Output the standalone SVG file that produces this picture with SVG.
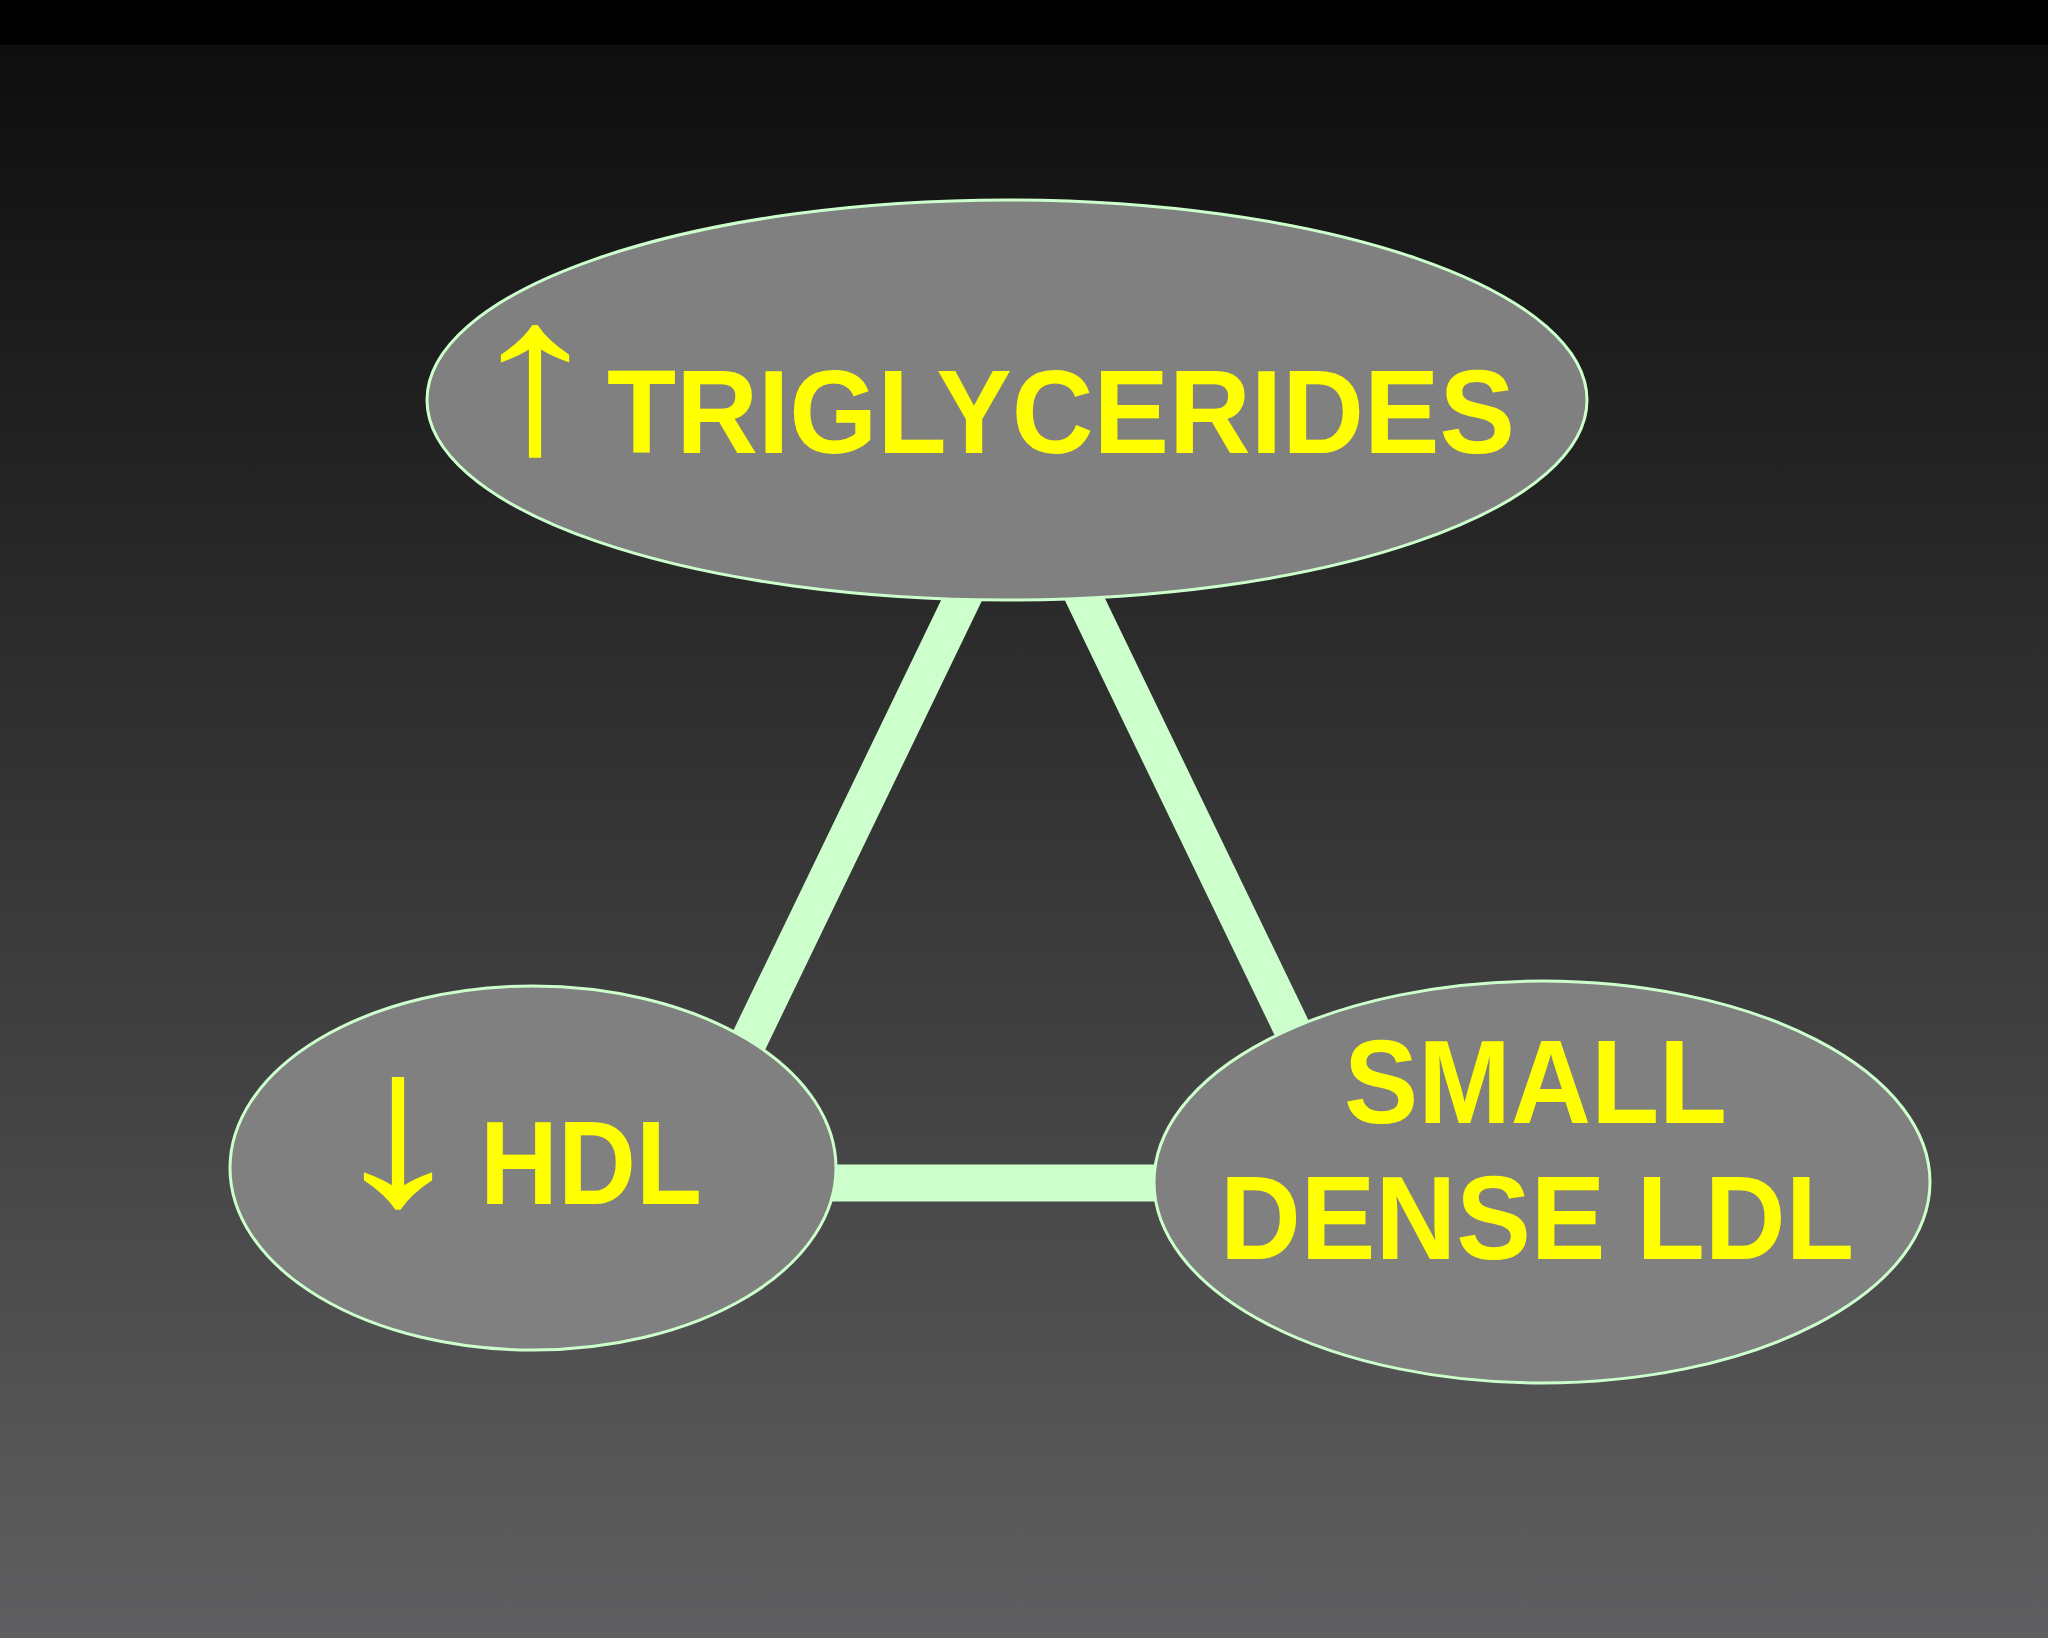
<svg xmlns="http://www.w3.org/2000/svg" width="2048" height="1638" viewBox="0 0 2048 1638">
<defs>
<linearGradient id="bg" x1="0" y1="45" x2="0" y2="1638" gradientUnits="userSpaceOnUse">
<stop offset="0" stop-color="#0e0e0e"/>
<stop offset="1" stop-color="#5f5e60"/>
</linearGradient>
<style>
.node{fill:#808080;stroke:#ccffcc;stroke-width:3}
.link{stroke:#ccffcc;stroke-width:37;fill:none}
.lbl{font-family:"Liberation Sans",Arial,sans-serif;font-weight:bold;font-size:118px;fill:#ffff00}
.arr{font-family:"Liberation Serif","Times New Roman",serif;font-weight:bold;font-size:224px;fill:#ffff00}
</style>
</defs>
<rect x="0" y="0" width="2048" height="1638" fill="url(#bg)"/>
<rect x="0" y="0" width="2048" height="45" fill="#000"/>
<g id="connectors">
<line class="link" x1="1010" y1="500" x2="730" y2="1080"/>
<line class="link" x1="1037" y1="500" x2="1310" y2="1066"/>
<line class="link" x1="800" y1="1183" x2="1180" y2="1183"/>
</g>
<g id="node-triglycerides">
<ellipse class="node" cx="1007" cy="400" rx="580" ry="200"/>
<text class="arr" transform="translate(535,451) scale(1.3,1)" text-anchor="middle">↑</text>
<text class="lbl" x="607" y="453" textLength="908" lengthAdjust="spacingAndGlyphs">TRIGLYCERIDES</text>
</g>
<g id="node-hdl">
<ellipse class="node" cx="533" cy="1168" rx="303" ry="182"/>
<text class="arr" transform="translate(398,1203) scale(1.3,1)" text-anchor="middle">↓</text>
<text class="lbl" x="480" y="1204" textLength="222" lengthAdjust="spacingAndGlyphs">HDL</text>
</g>
<g id="node-ldl">
<ellipse class="node" cx="1542" cy="1182" rx="388" ry="201"/>
<text class="lbl" x="1344" y="1123" textLength="383" lengthAdjust="spacingAndGlyphs">SMALL</text>
<text class="lbl" x="1220" y="1259" textLength="634" lengthAdjust="spacingAndGlyphs">DENSE LDL</text>
</g>
</svg>
